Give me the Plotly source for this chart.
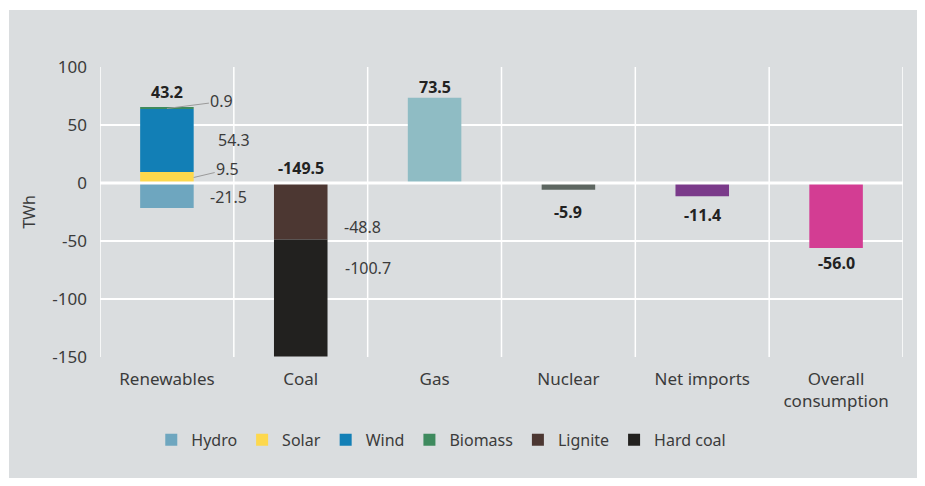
import plotly.graph_objects as go

categories = ["Renewables", "Coal", "Gas", "Nuclear", "Net imports", "Overall consumption"]
tick_labels = ["Renewables", "Coal", "Gas", "Nuclear", "Net imports", "Overall<br>consumption"]

# stacked components (TWh)
hydro = [-21.5]
solar = [9.5]
wind = [54.3]
biomass = [0.9]
lignite = [-48.8]
hard_coal = [-100.7]
gas = [73.5]
nuclear = [-5.9]
net_imports = [-11.4]
overall = [-56.0]
totals = [43.2, -149.5, 73.5, -5.9, -11.4, -56.0]

BG = "#dadddf"
TXT = "#3b3b3b"
FONT = "Noto Sans"

fig = go.Figure()
W = 0.4
traces = [
    ("Hydro", "Renewables", hydro, "#6ea6bf", True),
    ("Solar", "Renewables", solar, "#fdd84d", True),
    ("Wind", "Renewables", wind, "#127fb6", True),
    ("Biomass", "Renewables", biomass, "#3e8a5e", True),
    ("Lignite", "Coal", lignite, "#4c3732", True),
    ("Hard coal", "Coal", hard_coal, "#22211f", True),
    ("Gas", "Gas", gas, "#8fbcc4", False),
    ("Nuclear", "Nuclear", nuclear, "#5d6661", False),
    ("Net imports", "Net imports", net_imports, "#7a3a8a", False),
    ("Overall consumption", "Overall consumption", overall, "#d33d93", False),
]
for name, cat, vals, col, leg in traces:
    fig.add_trace(go.Bar(
        x=[cat] * len(vals), y=vals, name=name, width=W,
        marker=dict(color=col, line=dict(width=0)),
        showlegend=leg, hoverinfo="skip",
    ))

annotations = []
# component labels for renewables
ri = categories.index("Renewables")
pos_top = solar[0] + wind[0] + biomass[0]
annotations.append(dict(x=ri, y=solar[0] + wind[0] + biomass[0] / 2, text=f"{biomass[0]:.1f}",
                        showarrow=True, arrowhead=0, arrowwidth=1, arrowcolor="#9a9a9a",
                        ax=55, ay=-7, xanchor="center"))
annotations.append(dict(x=ri, y=solar[0] + wind[0] / 2, text=f"{wind[0]:.1f}",
                        showarrow=False, xanchor="left", xshift=49))
annotations.append(dict(x=ri + W / 2, y=solar[0] / 2, text=f"{solar[0]:.1f}",
                        showarrow=True, arrowhead=0, arrowwidth=1, arrowcolor="#9a9a9a",
                        ax=34, ay=-8, xanchor="center"))
annotations.append(dict(x=ri, y=hydro[0] / 2, text=f"{hydro[0]:.1f}",
                        showarrow=False, xanchor="left", xshift=41, yshift=-2))
ci = categories.index("Coal")
annotations.append(dict(x=ci, y=lignite[0] / 2, text=f"{lignite[0]:.1f}",
                        showarrow=False, xanchor="left", xshift=41, yshift=-16))
annotations.append(dict(x=ci, y=lignite[0] + hard_coal[0] / 2, text=f"{hard_coal[0]:.1f}",
                        showarrow=False, xanchor="left", xshift=42, yshift=30))

# totals (bold)
tops = [pos_top, 0, gas[0], nuclear[0], net_imports[0], overall[0]]
anchors = ["bottom", "bottom", "bottom", "top", "top", "top"]
shifts = [3, 2, -2, -9, -6, -2]
for i, (t, y, a, s) in enumerate(zip(totals, tops, anchors, shifts)):
    annotations.append(dict(x=i, y=y, text=f"<b>{t:.1f}</b>", showarrow=False,
                            yanchor=a, yshift=s, font=dict(size=16, color="#222222")))

for a in annotations:
    a.setdefault("xref", "x")
    a.setdefault("yref", "y")
    if "font" not in a:
        a["font"] = dict(size=16, color=TXT)

shapes = [
    # grey panel
    dict(type="rect", xref="paper", yref="paper", x0=-0.1133, x1=1.0187, y0=-0.4172, y1=1.1966,
         fillcolor=BG, line=dict(width=0), layer="below"),
]
# vertical category separators
for k in range(len(categories) + 1):
    shapes.append(dict(type="line", xref="x", yref="paper", x0=k - 0.5, x1=k - 0.5, y0=0, y1=1,
                       line=dict(color="white", width=1.5), layer="below"))
# zero line on top
shapes.append(dict(type="line", xref="paper", yref="y", x0=0, x1=1, y0=0, y1=0,
                   line=dict(color="white", width=3), layer="above"))

fig.update_layout(
    width=917, height=478,
    margin=dict(l=92, r=22, t=59, b=129),
    paper_bgcolor="white", plot_bgcolor=BG,
    barmode="relative",
    font=dict(family=FONT, size=16, color=TXT),
    shapes=shapes,
    annotations=annotations,
    legend=dict(orientation="h", x=0.425, xanchor="center", y=-0.286, yanchor="middle",
                font=dict(size=16, color=TXT), itemwidth=30, traceorder="normal",
                bgcolor="rgba(0,0,0,0)"),
    xaxis=dict(type="category", categoryorder="array", categoryarray=categories,
               tickvals=categories, ticktext=tick_labels, range=[-0.5, 5.5],
               showgrid=False, zeroline=False, showline=False, ticks="",
               ticklabelstandoff=10,
               tickfont=dict(size=17, color=TXT)),
    yaxis=dict(range=[-150, 100], tickvals=[100, 50, 0, -50, -100, -150],
               ticktext=["100", "50", "0", "-50", "-100", "-150"],
               showgrid=True, gridcolor="white", gridwidth=1.5, zeroline=False,
               showline=False, ticks="", ticklabelstandoff=12,
               title=dict(text="TWh", standoff=12, font=dict(size=16, color=TXT)),
               tickfont=dict(size=17, color=TXT)),
)

fig.write_html("out.html")
